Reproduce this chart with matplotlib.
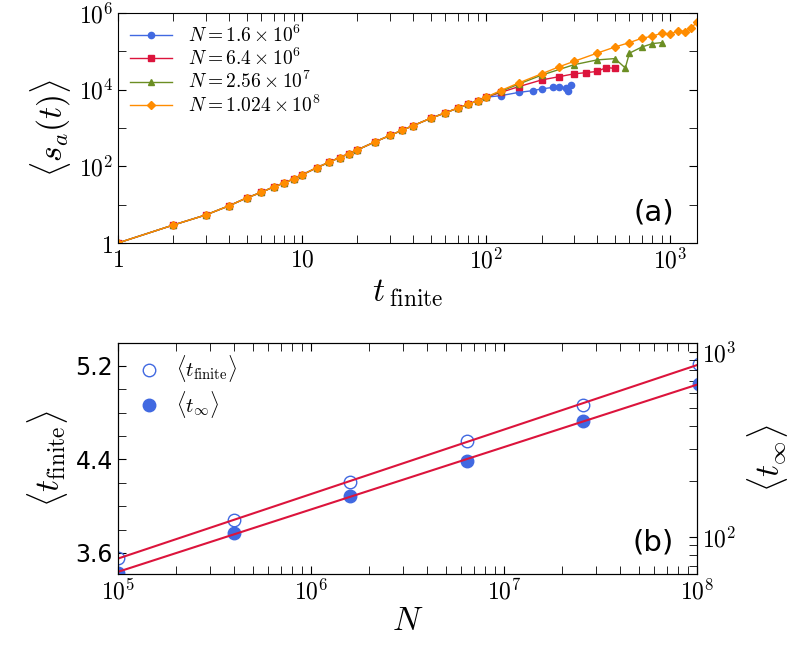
import matplotlib
matplotlib.use("Agg")
import matplotlib.pyplot as plt
import numpy as np
from matplotlib.ticker import FixedLocator, LogLocator, NullFormatter

plt.rcParams['mathtext.fontset'] = 'cm'
plt.rcParams['font.family'] = 'DejaVu Sans'

# ---- panel (a) data ----
t_common = [1,2,3,4,5,6,7,8,9,10,12,14,16,18,20,25,30,35,40,50,60,70,80,90,100]
s_common = [1,2.95,5.4,9.3,15,21,29,37,47,60,92,128,170,215,270,440,640,880,1150,1800,2500,3300,4200,5200,6400]

t_blue = [120,150,180,200,230,250,270,280,290]
s_blue = [7000,8500,9500,10500,11500,12000,11000,9000,13000]
t_red = [120,150,200,250,300,350,400,450,500]
s_red = [8500,12000,18000,22000,26000,28000,30000,38000,36000]
t_green = [120,150,200,300,400,500,570,600,700,800,900]
s_green = [9000,14000,24000,45000,60000,65000,37000,90000,130000,160000,170000]
t_orange = [120,150,200,250,300,400,500,600,700,800,900,1000,1100,1200,1300,1400]
s_orange = [9500,15000,26000,40000,55000,90000,130000,170000,220000,250000,300000,280000,350000,330000,400000,600000]

# ---- panel (b) data ----
N_vals = [1e5, 4e5, 1.6e6, 6.4e6, 2.56e7, 1.024e8]
tfin_vals = [3.557, 3.88, 4.21, 4.56, 4.87, 5.22]
tinf_vals = [64, 105, 167, 258, 424, 671]

fig = plt.figure(figsize=(7.88, 6.55), dpi=100)
ax1 = fig.add_axes([0.1497, 0.629, 0.735, 0.351])
ax2 = fig.add_axes([0.1497, 0.1237, 0.735, 0.3527])

series = [
    (t_blue, s_blue, '#4169E1', 'o', r'$N = 1.6\times10^6$'),
    (t_red, s_red, '#DC143C', 's', r'$N = 6.4\times10^6$'),
    (t_green, s_green, '#6B8E23', '^', r'$N = 2.56\times10^7$'),
    (t_orange, s_orange, '#FF8C00', 'D', r'$N = 1.024\times10^8$'),
]
for tt, ss, c, m, lab in series:
    x = t_common + tt
    y = s_common + ss
    ax1.plot(x, y, color=c, marker=m, ms=4.5, lw=1, label=lab)
ax1.set_xscale('log'); ax1.set_yscale('log')
ax1.set_xlim(1, 1400); ax1.set_ylim(1, 1e6)
ax1.xaxis.set_major_locator(FixedLocator([1, 10, 100, 1000]))
ax1.set_xticklabels(['$1$', '$10$', '$10^2$', '$10^3$'])
ax1.yaxis.set_major_locator(FixedLocator([1, 1e2, 1e4, 1e6]))
ax1.set_yticklabels(['$1$', '$10^2$', '$10^4$', '$10^6$'])
ax1.yaxis.set_minor_locator(FixedLocator([10, 1e3, 1e5]))
ax1.yaxis.set_minor_formatter(NullFormatter())
ax1.xaxis.set_minor_locator(LogLocator(subs=np.arange(2, 10)))
ax1.xaxis.set_minor_formatter(NullFormatter())
ax1.tick_params(which='both', direction='in', top=True, right=True, labelsize=17, length=6)
ax1.set_xlabel(r'$t_{\;\mathrm{finite}}$', fontsize=24, labelpad=2)
ax1.set_ylabel(r'$\langle s_a(t)\rangle$', fontsize=24)
ax1.legend(loc='upper left', fontsize=14, frameon=False, handlelength=2.2,
           borderaxespad=0.2, labelspacing=0.1)
ax1.text(0.96, 0.1, '(a)', transform=ax1.transAxes, fontsize=21, ha='right')

# panel b
ax3 = ax2.twinx()
ax2.plot(N_vals, tfin_vals, 'o', mfc='none', mec='#4169E1', ms=9, label=r'$\langle t_{\mathrm{finite}}\rangle$')
ax3.plot(N_vals, tinf_vals, 'o', color='#4169E1', ms=9)
ax2.plot([], [], 'o', color='#4169E1', ms=9, label=r'$\langle t_{\infty}\rangle$')
lx = np.log10(N_vals)
p1 = np.polyfit(lx, tfin_vals, 1)
p2 = np.polyfit(lx, np.log10(tinf_vals), 1)
xl = np.array([5, 8])
ax2.plot(10**xl, np.polyval(p1, xl), color='#DC143C', lw=1.5)
ax3.plot(10**xl, 10**np.polyval(p2, xl), color='#DC143C', lw=1.5)
ax2.set_xscale('log')
ax2.set_xlim(1e5, 1e8)
ax2.set_ylim(3.42, 5.397)
ax3.set_yscale('log')
ax3.set_ylim(10**1.8, 10**3.049)
ax2.set_yticks([3.6, 4.4, 5.2])
ax2.set_yticks([3.8, 4.0, 4.2, 4.6, 4.8, 5.0], minor=True)
ax2.yaxis.set_minor_formatter(NullFormatter())
ax3.yaxis.set_major_locator(FixedLocator([100, 1000]))
ax3.set_yticklabels(['$10^2$', '$10^3$'])
ax3.yaxis.set_minor_locator(FixedLocator([70, 80, 90, 200, 300, 400, 500, 600, 700, 800, 900]))
ax3.yaxis.set_minor_formatter(NullFormatter())
ax2.xaxis.set_major_locator(FixedLocator([1e5, 1e6, 1e7, 1e8]))
ax2.set_xticklabels(['$10^5$', '$10^6$', '$10^7$', '$10^8$'])
ax2.xaxis.set_minor_locator(LogLocator(subs=np.arange(2, 10)))
ax2.xaxis.set_minor_formatter(NullFormatter())
ax2.tick_params(which='both', direction='in', top=True, labelsize=17, length=6)
ax3.tick_params(which='both', direction='in', labelsize=17, length=6)
ax2.set_xlabel(r'$N$', fontsize=24, labelpad=0)
ax2.set_ylabel(r'$\langle t_{\mathrm{finite}}\rangle$', fontsize=24)
ax3.set_ylabel(r'$\langle t_{\infty}\rangle$', fontsize=24, labelpad=6)
ax2.legend(loc='upper left', fontsize=15, frameon=False, handletextpad=0.3,
           borderaxespad=0.1, labelspacing=0.2)
ax2.text(0.96, 0.1, '(b)', transform=ax2.transAxes, fontsize=21, ha='right')

fig.savefig('out.png', dpi=100)
